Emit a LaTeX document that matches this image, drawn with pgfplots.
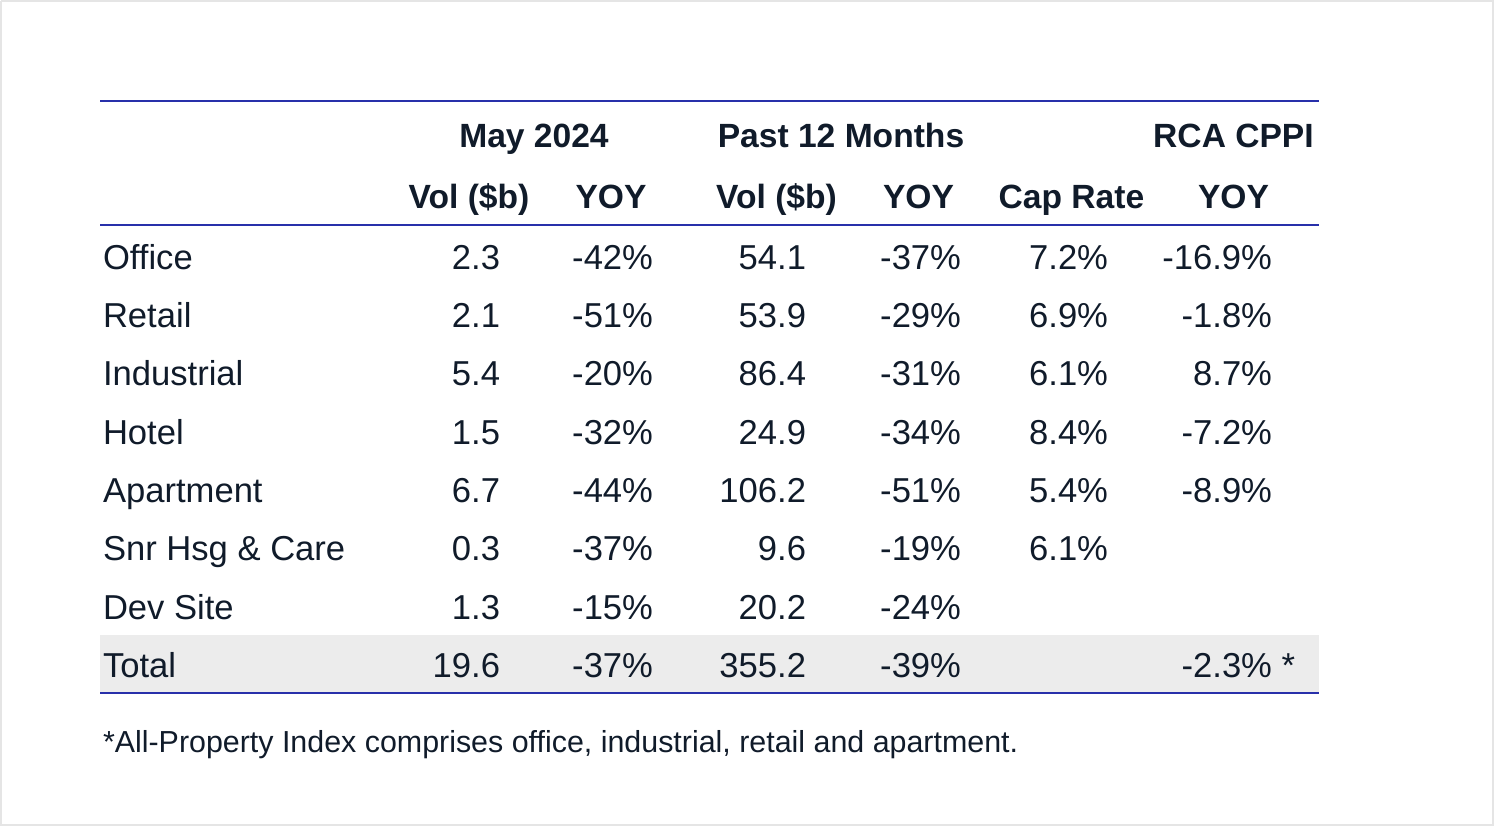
\documentclass[border=0pt]{standalone}
\usepackage{pgfplots}
\pgfplotsset{compat=1.18}
\usepackage{fontspec}
\setmainfont{Liberation Sans}
\definecolor{txt}{RGB}{16,27,42}
\definecolor{rulecol}{RGB}{40,48,170}
\definecolor{bandcol}{RGB}{236,236,236}
\definecolor{framecol}{RGB}{229,229,229}
\begin{document}
\begin{tikzpicture}
\begin{axis}[
  scale only axis, width=747pt, height=413pt,
  xmin=0, xmax=1494, ymin=0, ymax=826, y dir=reverse,
  hide axis, clip=false,
  cell/.style={draw=none, mark=none, nodes near coords, point meta=explicit symbolic,
    every node near coord/.append style={font=\fontsize{17.3}{20}\selectfont, text=txt,
      inner sep=0pt, outer sep=0pt, anchor=base east}},
  lcell/.style={cell, every node near coord/.append style={anchor=base west}},
  hcell/.style={draw=none, mark=none, nodes near coords, point meta=explicit symbolic,
    every node near coord/.append style={font=\fontsize{16.8}{20}\selectfont\bfseries, text=txt,
      inner sep=0pt, outer sep=0pt, anchor=base}},
  fcell/.style={draw=none, mark=none, nodes near coords, point meta=explicit symbolic,
    every node near coord/.append style={font=\fontsize{15.2}{18}\selectfont, text=txt,
      inner sep=0pt, outer sep=0pt, anchor=base west}},
]
% outer frame
\addplot[framecol, line width=1pt, mark=none] coordinates {(1,1)(1493,1)(1493,825)(1,825)(1,1)};
% total band
\addplot[fill=bandcol, draw=none, mark=none] coordinates {(100,635)(1319,635)(1319,692)(100,692)};
% rules
\addplot[rulecol, line width=1.1pt, mark=none] coordinates {(100,101)(1319,101)};
\addplot[rulecol, line width=1.1pt, mark=none] coordinates {(100,225)(1319,225)};
\addplot[rulecol, line width=1.1pt, mark=none] coordinates {(100,693)(1319,693)};
% headers
\addplot[hcell] coordinates {(534,147) [May 2024] (841,147) [Past 12 Months] (1233.5,147) [RCA CPPI]};
\addplot[hcell] coordinates {(469,208) [Vol (\$b)] (611,208) [YOY] (776.5,208) [Vol (\$b)]
  (918.5,208) [YOY] (1071.5,208) [Cap Rate] (1233.5,208) [YOY]};
% row labels
\addplot[lcell] coordinates {(103,269) [Office] (103,327.3) [Retail] (103,385.7) [Industrial]
  (103,444) [Hotel] (103,502.3) [Apartment] (103,560.7) [Snr Hsg \& Care] (103,619) [Dev Site] (103,677.3) [Total]};
% May 2024 Vol ($b)
\addplot[cell] coordinates {(500,269) [2.3] (500,327.3) [2.1] (500,385.7) [5.4] (500,444) [1.5]
  (500,502.3) [6.7] (500,560.7) [0.3] (500,619) [1.3] (500,677.3) [19.6]};
% May 2024 YOY
\addplot[cell] coordinates {(653,269) [-42\%] (653,327.3) [-51\%] (653,385.7) [-20\%] (653,444) [-32\%]
  (653,502.3) [-44\%] (653,560.7) [-37\%] (653,619) [-15\%] (653,677.3) [-37\%]};
% Past 12 Months Vol ($b)
\addplot[cell] coordinates {(806,269) [54.1] (806,327.3) [53.9] (806,385.7) [86.4] (806,444) [24.9]
  (806,502.3) [106.2] (806,560.7) [9.6] (806,619) [20.2] (806,677.3) [355.2]};
% Past 12 Months YOY
\addplot[cell] coordinates {(961,269) [-37\%] (961,327.3) [-29\%] (961,385.7) [-31\%] (961,444) [-34\%]
  (961,502.3) [-51\%] (961,560.7) [-19\%] (961,619) [-24\%] (961,677.3) [-39\%]};
% Cap Rate
\addplot[cell] coordinates {(1108,269) [7.2\%] (1108,327.3) [6.9\%] (1108,385.7) [6.1\%] (1108,444) [8.4\%]
  (1108,502.3) [5.4\%] (1108,560.7) [6.1\%]};
% RCA CPPI YOY
\addplot[cell] coordinates {(1272,269) [-16.9\%] (1272,327.3) [-1.8\%] (1272,385.7) [8.7\%] (1272,444) [-7.2\%]
  (1272,502.3) [-8.9\%] (1272,677.3) [-2.3\%\rlap{ *}]};
% footnote
\addplot[fcell] coordinates {(103,752) [*All-Property Index comprises office, industrial, retail and apartment.]};
\end{axis}
\end{tikzpicture}
\end{document}
